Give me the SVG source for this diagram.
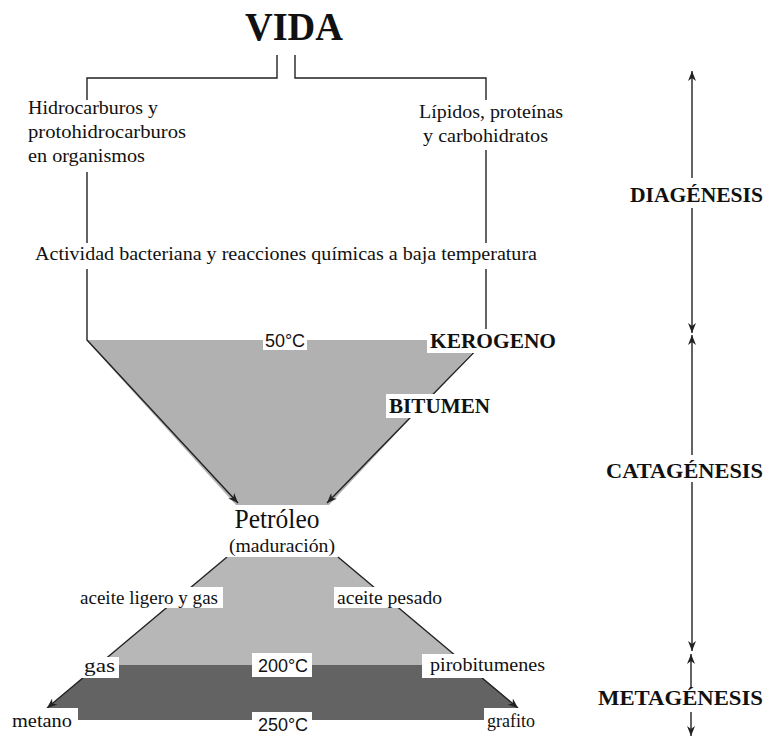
<svg xmlns="http://www.w3.org/2000/svg" width="764" height="737" viewBox="0 0 764 737">
<style>
.t{font-family:"Liberation Serif","Times New Roman",serif;font-size:19px;fill:#111}
.b{font-weight:bold;font-size:20px}
.s{font-family:"Liberation Sans",Arial,sans-serif;font-size:18px;fill:#111;text-anchor:middle}
.ln{stroke:#222;stroke-width:1.4;fill:none}
.box{fill:#fff}
.g1{fill:#b1b1b1}
.g2{fill:#b7b7b7}
.g3{fill:#636363}
</style>
<defs>
<marker id="ah" viewBox="0 0 10 8" refX="10" refY="4" markerWidth="10" markerHeight="8" orient="auto" markerUnits="userSpaceOnUse">
<path d="M0,0 L10,4 L0,8 L3,4 z" fill="#222"/>
</marker>
</defs>
<rect width="764" height="737" fill="#fff"/>
<g id="shapes">
<polygon class="g1" points="86,340 484,340 329,505 236,505"/>
<polygon class="g2" points="227,557 338,557 467,665 98,665"/>
<polygon class="g3" points="98,665 467,665 533,720 33,720"/>
</g>
<g id="connectors">
<polyline class="ln" points="277,55 277,78 87,78 87,100"/>
<polyline class="ln" points="295,55 295,78 486,78 486,100"/>
<line class="ln" x1="87" y1="172" x2="87" y2="243"/>
<polyline class="ln" points="87,269 87,340 238,503" marker-end="url(#ah)"/>
<line class="ln" x1="486" y1="150" x2="486" y2="243"/>
<polyline class="ln" points="486,269 486,340 327,503" marker-end="url(#ah)"/>
<line class="ln" x1="227" y1="557" x2="47" y2="708" marker-end="url(#ah)"/>
<line class="ln" x1="338" y1="557" x2="518" y2="708" marker-end="url(#ah)"/>
<line class="ln" x1="692" y1="178" x2="692" y2="71" marker-end="url(#ah)"/>
<line class="ln" x1="692" y1="208" x2="692" y2="333" marker-end="url(#ah)"/>
<line class="ln" x1="692" y1="455" x2="692" y2="335" marker-end="url(#ah)"/>
<line class="ln" x1="692" y1="482" x2="692" y2="651" marker-end="url(#ah)"/>
<line class="ln" x1="691" y1="688" x2="691" y2="654" marker-end="url(#ah)"/>
<line class="ln" x1="691" y1="712" x2="691" y2="736" marker-end="url(#ah)"/>
</g>
<g id="vida"><text class="t" x="294" y="40" style="font-size:41px;font-weight:bold" text-anchor="middle" textLength="98" lengthAdjust="spacingAndGlyphs">VIDA</text></g>
<g id="hidrocarburos">
<text class="t" x="28" y="114" textLength="130" lengthAdjust="spacingAndGlyphs">Hidrocarburos y</text>
<text class="t" x="28" y="138" textLength="158" lengthAdjust="spacingAndGlyphs">protohidrocarburos</text>
<text class="t" x="28" y="162" textLength="117" lengthAdjust="spacingAndGlyphs">en organismos</text>
</g>
<g id="lipidos">
<text class="t" x="419" y="118" textLength="144" lengthAdjust="spacingAndGlyphs">Lípidos, proteínas</text>
<text class="t" x="423" y="142" textLength="125" lengthAdjust="spacingAndGlyphs">y carbohidratos</text>
</g>
<g id="actividad"><text class="t" x="35" y="260" textLength="502" lengthAdjust="spacingAndGlyphs">Actividad bacteriana y reacciones químicas a baja temperatura</text></g>
<g id="t50"><rect class="box" x="263" y="332" width="44" height="18"/><text class="s" x="285" y="347">50°C</text></g>
<g id="kerogeno"><rect class="box" x="427" y="329" width="131" height="24"/><text class="t b" x="430" y="348" textLength="126" lengthAdjust="spacingAndGlyphs">KEROGENO</text></g>
<g id="bitumen"><rect class="box" x="386" y="394" width="108" height="24"/><text class="t b" x="389" y="413" textLength="101" lengthAdjust="spacingAndGlyphs">BITUMEN</text></g>
<g id="petroleo">
<rect class="box" x="220" y="505" width="116" height="52"/>
<text class="t" x="277" y="528" style="font-size:27px" text-anchor="middle" textLength="85" lengthAdjust="spacingAndGlyphs">Petróleo</text>
<text class="t" x="282" y="552" text-anchor="middle" textLength="106" lengthAdjust="spacingAndGlyphs">(maduración)</text>
</g>
<g id="ligero"><rect class="box" x="78" y="587" width="145" height="21"/><text class="t" x="80" y="604" textLength="138" lengthAdjust="spacingAndGlyphs">aceite ligero y gas</text></g>
<g id="pesado"><rect class="box" x="334" y="587" width="112" height="21"/><text class="t" x="337" y="604" textLength="105" lengthAdjust="spacingAndGlyphs">aceite pesado</text></g>
<g id="gas"><rect class="box" x="81" y="657" width="38" height="21"/><text class="t" x="84" y="672" textLength="31" lengthAdjust="spacingAndGlyphs">gas</text></g>
<g id="t200"><rect class="box" x="252" y="653" width="60" height="24"/><text class="s" x="283" y="672">200°C</text></g>
<g id="pirobitumenes"><rect class="box" x="422" y="654" width="128" height="24"/><text class="t" x="430" y="671" textLength="115" lengthAdjust="spacingAndGlyphs">pirobitumenes</text></g>
<g id="metano"><rect class="box" x="0" y="708" width="78" height="29"/><text class="t" x="12" y="727" textLength="60" lengthAdjust="spacingAndGlyphs">metano</text></g>
<g id="t250"><rect class="box" x="252" y="712" width="60" height="25"/><text class="s" x="283" y="731">250°C</text></g>
<g id="grafito"><rect class="box" x="484" y="708" width="58" height="29"/><text class="t" x="487" y="727" textLength="48" lengthAdjust="spacingAndGlyphs">grafito</text></g>
<g id="diagenesis"><text class="t b" x="763" y="202" text-anchor="end" textLength="133" lengthAdjust="spacingAndGlyphs">DIAGÉNESIS</text></g>
<g id="catagenesis"><text class="t b" x="763" y="478" text-anchor="end" textLength="157" lengthAdjust="spacingAndGlyphs">CATAGÉNESIS</text></g>
<g id="metagenesis"><text class="t b" x="763" y="705" text-anchor="end" textLength="165" lengthAdjust="spacingAndGlyphs">METAGÉNESIS</text></g>
</svg>
